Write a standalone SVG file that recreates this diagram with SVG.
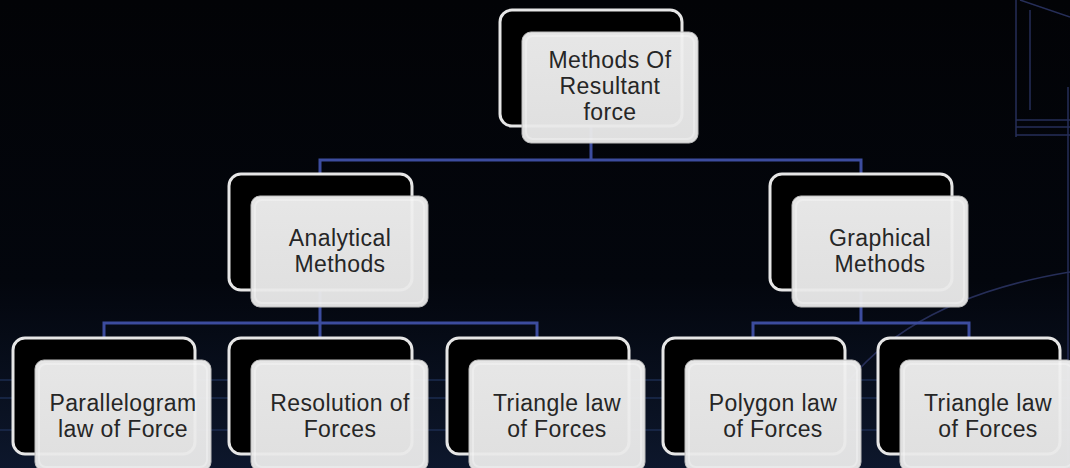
<svg xmlns="http://www.w3.org/2000/svg" width="1070" height="468" viewBox="0 0 1070 468">
<defs>
<linearGradient id="bg" x1="0" y1="0" x2="0" y2="1">
<stop offset="0" stop-color="#020306"/>
<stop offset="0.6" stop-color="#03060d"/>
<stop offset="1" stop-color="#0d172c"/>
</linearGradient>
<linearGradient id="face" x1="0" y1="0" x2="0" y2="1">
<stop offset="0" stop-color="#f0f0f0"/>
<stop offset="1" stop-color="#e8e8e8"/>
</linearGradient>
<style>
.back{fill:#000;stroke:#e6e6e6;stroke-width:3}
.front{fill:url(#face);fill-opacity:0.96;stroke:#bdbdbd;stroke-width:1}
.hl{fill:none;stroke:#ffffff;stroke-opacity:0.3;stroke-width:2}
.lbl{font-family:"Liberation Sans",Arial,sans-serif;font-size:23px;letter-spacing:0.4px;fill:#262626;text-anchor:middle}
.conn{fill:none;stroke:#3c4c9e;stroke-width:3;stroke-linecap:square}
.deco{fill:none;stroke:#262e58;stroke-width:1.5}
.streak{stroke:#1a2a4c;stroke-width:2;opacity:0.8}
</style>
</defs>
<rect x="0" y="0" width="1070" height="468" fill="url(#bg)"/>
<g id="background">
<line class="streak" x1="0" y1="380" x2="1070" y2="380"/>
<line class="streak" x1="0" y1="398" x2="1070" y2="398"/>
<line class="streak" x1="0" y1="430" x2="1070" y2="430" stroke-width="3"/>
<path class="deco" d="M1016 0 V137 M1016 120 H1070 M1016 127 H1070 M1016 135 H1070 M1020 0 L1070 17 M1068 87 V468"/>
<path class="deco" d="M1030 10 V110" stroke="#161b36"/>
<path class="deco" d="M835 400 Q900 300 1070 272" stroke="#1f2642"/>
</g>
<g id="connectors">
<path class="conn" d="M591 126 V160 M320 160 H861 M320 160 V174 M861 160 V174"/>
<path class="conn" d="M320 290 V323 M104 323 H537 M104 323 V338 M320 323 V338 M537 323 V338"/>
<path class="conn" d="M861 290 V323 M753 323 H969 M753 323 V338 M969 323 V338"/>
</g>
<g id="node-root">
<rect class="back" x="500" y="10" width="182" height="116" rx="12"/>
<rect class="front" x="522" y="32" width="176" height="111" rx="9"/>
<rect class="hl" x="526" y="36" width="168" height="103" rx="7"/>
<text class="lbl" x="610" y="68">Methods Of</text>
<text class="lbl" x="610" y="94">Resultant</text>
<text class="lbl" x="610" y="120">force</text>
</g>
<g id="node-analytical">
<rect class="back" x="229" y="174" width="183" height="116" rx="12"/>
<rect class="front" x="251" y="196" width="177" height="111" rx="9"/>
<rect class="hl" x="255" y="200" width="169" height="103" rx="7"/>
<text class="lbl" x="340" y="246">Analytical</text>
<text class="lbl" x="340" y="272">Methods</text>
</g>
<g id="node-graphical">
<rect class="back" x="770" y="174" width="182" height="116" rx="12"/>
<rect class="front" x="792" y="196" width="176" height="111" rx="9"/>
<rect class="hl" x="796" y="200" width="168" height="103" rx="7"/>
<text class="lbl" x="880" y="246">Graphical</text>
<text class="lbl" x="880" y="272">Methods</text>
</g>
<g id="node-parallelogram">
<rect class="back" x="13" y="338" width="182" height="116" rx="12"/>
<rect class="front" x="35" y="360" width="176" height="111" rx="9"/>
<rect class="hl" x="39" y="364" width="168" height="103" rx="7"/>
<text class="lbl" x="123" y="411">Parallelogram</text>
<text class="lbl" x="123" y="437">law of Force</text>
</g>
<g id="node-resolution">
<rect class="back" x="229" y="338" width="183" height="116" rx="12"/>
<rect class="front" x="251" y="360" width="177" height="111" rx="9"/>
<rect class="hl" x="255" y="364" width="169" height="103" rx="7"/>
<text class="lbl" x="340" y="411">Resolution of</text>
<text class="lbl" x="340" y="437">Forces</text>
</g>
<g id="node-triangle1">
<rect class="back" x="447" y="338" width="182" height="116" rx="12"/>
<rect class="front" x="469" y="360" width="176" height="111" rx="9"/>
<rect class="hl" x="473" y="364" width="168" height="103" rx="7"/>
<text class="lbl" x="557" y="411">Triangle law</text>
<text class="lbl" x="557" y="437">of Forces</text>
</g>
<g id="node-polygon">
<rect class="back" x="663" y="338" width="182" height="116" rx="12"/>
<rect class="front" x="685" y="360" width="176" height="111" rx="9"/>
<rect class="hl" x="689" y="364" width="168" height="103" rx="7"/>
<text class="lbl" x="773" y="411">Polygon law</text>
<text class="lbl" x="773" y="437">of Forces</text>
</g>
<g id="node-triangle2">
<rect class="back" x="878" y="338" width="182" height="116" rx="12"/>
<rect class="front" x="900" y="360" width="176" height="111" rx="9"/>
<rect class="hl" x="904" y="364" width="168" height="103" rx="7"/>
<text class="lbl" x="988" y="411">Triangle law</text>
<text class="lbl" x="988" y="437">of Forces</text>
</g>
</svg>
